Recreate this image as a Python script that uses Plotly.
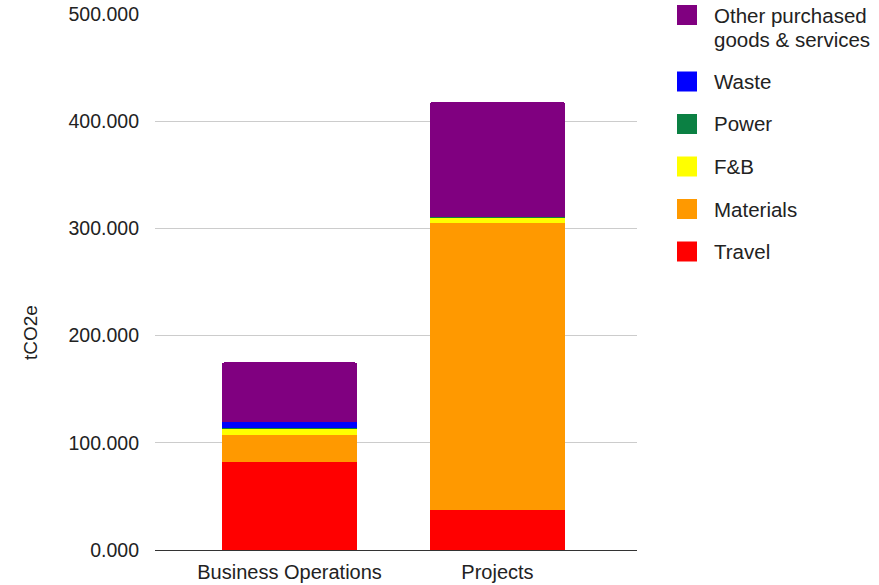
import plotly.graph_objects as go

# Emissions by category (tCO2e)
categories = ["Business Operations", "Projects"]
travel = [82, 37]
materials = [25, 268]
food_beverage = [6, 5.5]
power = [0.5, 0.2]
waste = [5.5, 0.3]
other_goods = [56, 107]

series_names = ["Travel", "Materials", "F&B", "Power", "Waste",
                "Other purchased<br>goods & services"]
series_values = [travel, materials, food_beverage, power, waste, other_goods]
series_colors = ["#ff0000", "#ff9900", "#ffff00", "#0b8043", "#0000ff", "#800080"]

y_ticks = [0, 100, 200, 300, 400, 500]

TEXT = "#222222"
FONT = "Liberation Sans, Arial, sans-serif"

W, H = 879, 585
L, R, T, B = 155, 242, 14, 35
pw, ph = W - L - R, H - T - B


def px_x(px):
    """Figure pixel column -> plot-area paper x."""
    return (px - L) / pw


def px_y(py):
    """Figure pixel row -> plot-area paper y."""
    return 1 - (py - T) / ph


fig = go.Figure()
for name, vals, col in zip(series_names, series_values, series_colors):
    fig.add_trace(go.Bar(
        x=categories, y=vals, name=name.replace("<br>", " "),
        marker=dict(color=col, line=dict(width=0)),
        width=0.65, showlegend=False,
    ))

# Legend drawn as swatches + labels, top entry = last series
shapes = []
annotations = []
sw_left, sw_size = 677, 20
text_left = 712
line_px = 24        # spacing between wrapped label lines
entry_gap = 42.5    # spacing between single-line entries
y_top = 5
for name, col in zip(reversed(series_names), reversed(series_colors)):
    shapes.append(dict(type="rect", xref="paper", yref="paper",
                       x0=px_x(sw_left), x1=px_x(sw_left + sw_size),
                       y0=px_y(y_top + sw_size), y1=px_y(y_top),
                       fillcolor=col, line=dict(width=0), layer="above"))
    lines = name.split("<br>")
    for j, line in enumerate(lines):
        annotations.append(dict(xref="paper", yref="paper", x=px_x(text_left),
                                y=px_y(y_top + sw_size / 2 + j * line_px),
                                xanchor="left", yanchor="middle", showarrow=False,
                                align="left", text=line,
                                font=dict(size=20.5, color=TEXT, family=FONT)))
    y_top += entry_gap + (len(lines) - 1) * line_px

# y-axis title
annotations.append(dict(xref="paper", yref="paper", x=px_x(30), y=px_y(332),
                        xanchor="center", yanchor="middle", showarrow=False,
                        text="tCO2e", textangle=-90,
                        font=dict(size=19, color=TEXT, family=FONT)))

fig.update_layout(
    barmode="stack",
    barcornerradius=3,
    width=W, height=H,
    margin=dict(l=L, r=R, t=T, b=B, autoexpand=False),
    plot_bgcolor="white", paper_bgcolor="white",
    font=dict(family=FONT, color=TEXT, size=19),
    shapes=shapes, annotations=annotations,
    xaxis=dict(range=[-0.647, 1.671], showgrid=False, showline=False,
               ticks="", automargin=False, ticklabelstandoff=8,
               tickfont=dict(size=20, color=TEXT)),
    yaxis=dict(range=[0, 500], tickvals=y_ticks, tickformat=".3f",
               showgrid=True, gridcolor="#cccccc", gridwidth=1,
               zeroline=True, zerolinecolor="#333333", zerolinewidth=1,
               showline=False, ticks="", ticklabelstandoff=15, automargin=False,
               tickfont=dict(size=19.5, color=TEXT)),
)

fig.write_html("out.html")
